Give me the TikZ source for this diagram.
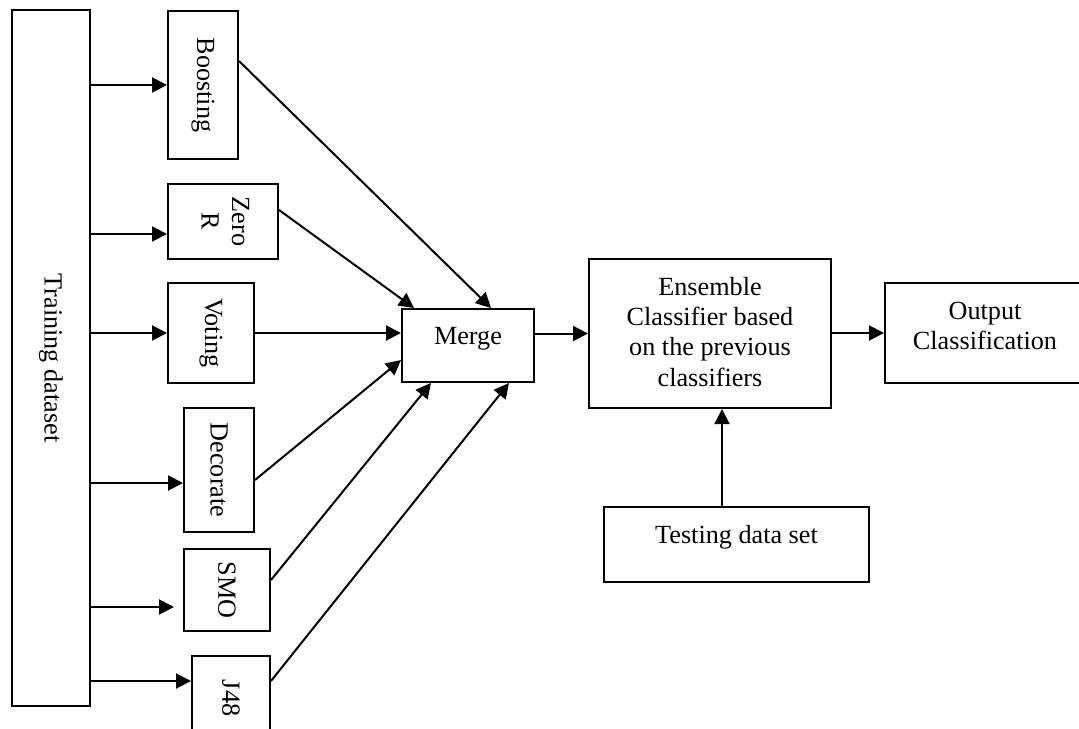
\documentclass[tikz,border=0pt]{standalone}
\usepackage{fontspec}
\setmainfont{Liberation Serif}
\usepackage{graphicx}
\usetikzlibrary{arrows.meta,calc}

\begin{document}
\begin{tikzpicture}[x=0.5pt,y=-0.5pt,
  font=\fontsize{13.1}{15.2}\selectfont,
  box/.style={draw,line width=1pt,inner sep=0pt},
  arr/.style={line width=1pt,-{Triangle[length=7.5pt,width=7.5pt]}}]

  \clip (0,0) rectangle (1079,728);

  % training data and classifiers
  \node[box,minimum width=39pt,minimum height=348pt] (train) at (51,358) {\rotatebox{-90}{Training dataset}};
  \node[box,minimum width=35pt,minimum height=74pt] (boost) at (203,85) {\rotatebox{-90}{Boosting}};
  \node[box,minimum width=55pt,minimum height=37.5pt] (zero) at (223,221.5) {\rotatebox{-90}{\begin{tabular}{@{}c@{}}Zero\\R\end{tabular}}};
  \node[box,minimum width=43pt,minimum height=50pt] (vote) at (211,333) {\rotatebox{-90}{Voting}};
  \node[box,minimum width=35pt,minimum height=62pt] (deco) at (219,470) {\rotatebox{-90}{Decorate}};
  \node[box,minimum width=43pt,minimum height=41pt] (smo) at (227,590) {\rotatebox{-90}{SMO}};
  \node[box,minimum width=39pt,minimum height=42pt] (j48) at (231,698) {\rotatebox{-90}{J48}};

  % merge, ensemble, output
  \node[box,minimum width=66pt,text height=17.5pt,text depth=19pt] (merge) at (468,345.5) {Merge};
  \node[box,minimum width=121pt,text height=18pt,text depth=56.5pt] (ens) at (710,333.5)
    {\begin{tabular}[t]{@{}c@{}}Ensemble\\Classifier based\\on the previous\\classifiers\end{tabular}};
  \node[box,minimum width=100pt,text height=18pt,text depth=32pt] (out) at (985,333)
    {\begin{tabular}[t]{@{}c@{}}Output\\Classification\end{tabular}};
  \node[box,minimum width=132.5pt,text height=18pt,text depth=19.5pt] (test) at (736.5,544.5) {Testing data set};

  % training -> classifiers
  \draw[arr] (train.east |- boost.west) -- (boost.west);
  \draw[arr] ($(train.east |- zero.west)+(0,12.5)$) -- ($(zero.west)+(0,12.5)$);
  \draw[arr] (train.east |- vote.west) -- (vote.west);
  \draw[arr] ($(train.east |- deco.west)+(0,13)$) -- ($(deco.west)+(0,13)$);
  \draw[arr,shorten >=4.5pt] ($(train.east |- smo.west)+(0,17)$) -- ($(smo.west)+(0,17)$);
  \draw[arr] ($(train.east |- j48.west)+(0,-17)$) -- ($(j48.west)+(0,-17)$);

  % classifiers -> merge
  \draw[arr] ($(boost.east)+(0,-24)$) -- ($(merge.north west)+(90,0)$);
  \draw[arr] ($(zero.east)+(0,-11.5)$) -- ($(merge.north west)+(13,0)$);
  \draw[arr] (vote.east) -- (merge.west |- vote.east);
  \draw[arr] ($(deco.east)+(0,10)$) -- ($(merge.west)+(0,14.5)$);
  \draw[arr] ($(smo.east)+(0,-10)$) -- ($(merge.south west)+(30,0)$);
  \draw[arr] ($(j48.east)+(0,-17)$) -- ($(merge.south west)+(108,0)$);

  % ensemble
  \draw[arr] (merge.east |- ens.west) -- (ens.west);
  \draw[arr] (ens.east |- out.west) -- (out.west);
  \draw[arr] ($(test.north)+(-14.5,0)$) -- ($(ens.south)+(12,0)$);

\end{tikzpicture}
\end{document}
